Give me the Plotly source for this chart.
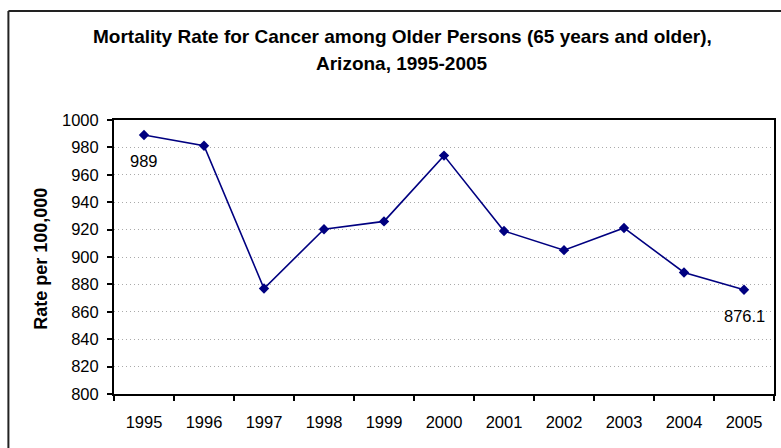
import plotly.graph_objects as go

years = ["1995", "1996", "1997", "1998", "1999", "2000", "2001", "2002", "2003", "2004", "2005"]
rates = [989, 981.2, 877, 920.3, 926, 974, 919, 905, 921.2, 888.7, 876.1]
label_years = ["1995", "2005"]
label_texts = ["989", "876.1"]
y_ticks = [800, 820, 840, 860, 880, 900, 920, 940, 960, 980, 1000]

title_line1 = "Mortality Rate for Cancer among Older Persons (65 years and older),"
title_line2 = "Arizona, 1995-2005"
y_title = "Rate per 100,000"

FONT = "Liberation Sans, Arial, sans-serif"
NAVY = "#000080"

fig = go.Figure()
fig.add_trace(go.Scatter(
    x=years, y=rates, mode="lines+markers",
    line=dict(color=NAVY, width=1.6),
    marker=dict(symbol="diamond", size=8, color=NAVY),
    showlegend=False, hoverinfo="skip",
))

annotations = []
for yr, txt in zip(label_years, label_texts):
    i = years.index(yr)
    annotations.append(dict(
        x=i, y=rates[i], xref="x", yref="y", text=txt,
        xanchor="center", yanchor="middle",
        showarrow=False, yshift=-26, font=dict(family=FONT, size=16.5, color="black"),
    ))
annotations += [
    dict(x=0.437, y=1.305, xref="paper", yref="paper", text="<b>%s</b>" % title_line1,
         xanchor="center", yanchor="middle",
         showarrow=False, font=dict(family=FONT, size=19, color="black")),
    dict(x=0.437, y=1.206, xref="paper", yref="paper", text="<b>%s</b>" % title_line2,
         xanchor="center", yanchor="middle",
         showarrow=False, font=dict(family=FONT, size=19, color="black")),
    dict(x=-0.1118, y=0.4945, xref="paper", yref="paper", text="<b>%s</b>" % y_title,
         xanchor="center", yanchor="middle",
         textangle=-90, showarrow=False, font=dict(family=FONT, size=18, color="black")),
]

fig.update_layout(
    width=781, height=448,
    margin=dict(l=114, r=5, t=120, b=54, pad=0),
    paper_bgcolor="white", plot_bgcolor="white",
    font=dict(family=FONT, size=16.5, color="black"),
    annotations=annotations,
    shapes=[
        dict(type="line", xref="paper", yref="paper", x0=-0.160, x1=1.2, y0=1.398, y1=1.398,
             line=dict(color="#222222", width=2)),
        dict(type="line", xref="paper", yref="paper", x0=-0.160, x1=-0.160, y0=1.398, y1=-0.4,
             line=dict(color="#222222", width=2)),
    ],
)
fig.update_xaxes(
    type="category", range=[-0.5, len(years) - 0.5],
    tickson="boundaries", ticks="outside", ticklen=5, tickwidth=1.5, tickcolor="black",
    showline=True, linecolor="black", linewidth=2, mirror=True,
    showgrid=False, zeroline=False, ticklabelstandoff=12,
    tickfont=dict(family=FONT, size=16.5, color="black"),
)
fig.update_yaxes(
    range=[800, 1000], tickvals=y_ticks, ticks="outside", ticklen=5, tickwidth=1.5,
    tickcolor="black", showline=True, linecolor="black", linewidth=2, mirror=True,
    showgrid=True, gridcolor="#aaaaaa", gridwidth=1, griddash="1px,3px",
    zeroline=False, ticklabelstandoff=5,
    tickfont=dict(family=FONT, size=16.5, color="black"),
)

fig.write_html("out.html")
